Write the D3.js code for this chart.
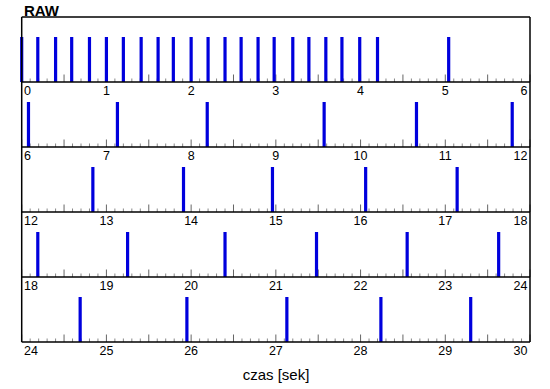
<!DOCTYPE html>
<html>
<head>
<meta charset="utf-8">
<script src="https://cdn.jsdelivr.net/npm/d3@7"></script>
<style>
  html, body { margin: 0; padding: 0; background: #fff; }
  svg { display: block; }
</style>
</head>
<body>
<svg id="chart" width="550" height="389"></svg>
<script>
// ---- data ----
const title = "RAW";
const xLabel = "czas [sek]";
const rowStarts = [0, 6, 12, 18, 24];   // each row spans 6 seconds
const rowSpan = 6;
const eventTimes = [
  0.00, 0.19, 0.40, 0.59, 0.80, 1.00, 1.20, 1.41, 1.61, 1.79, 2.00, 2.20,
  2.40, 2.59, 2.79, 2.98, 3.20, 3.39, 3.59, 3.78, 3.99, 4.20, 5.04,
  6.08, 7.13, 8.19, 9.57, 10.66, 11.79,
  12.84, 13.91, 14.96, 16.06, 17.14,
  18.19, 19.25, 20.40, 21.48, 22.55, 23.63,
  24.69, 25.95, 27.13, 28.24, 29.30
];
const eventValues = eventTimes.map(() => 1);

// ---- layout ----
const svg = d3.select("#chart");
const left = 21.7, right = 530;
const top0 = 17, rowH = 65, barH = 45;
const font = "'Liberation Sans', Arial, Helvetica, sans-serif";

svg.append("text")
  .attr("x", 24).attr("y", 16)
  .attr("font-family", font).attr("font-weight", "bold").attr("font-size", 15)
  .text(title);

rowStarts.forEach((start, i) => {
  const yTop = top0 + i * rowH;
  const yAxis = yTop + rowH;
  const x = d3.scaleLinear().domain([start, start + rowSpan]).range([left, right]);
  const y = d3.scaleLinear().domain([0, 1]).range([yAxis, yAxis - barH]);
  const g = svg.append("g");

  // minor ticks every 0.1 s, taller every 0.5 s
  const ticks = d3.range(0, rowSpan * 10 + 1).map(k => start + k / 10);
  g.selectAll("line.tick").data(ticks).join("line")
    .attr("x1", d => x(d)).attr("x2", d => x(d))
    .attr("y1", yAxis)
    .attr("y2", (d, k) => yAxis - (k % 5 === 0 ? 7.5 : 3.5))
    .attr("stroke", (d, k) => k % 5 === 0 ? "#666" : "#888")
    .attr("stroke-width", 1);

  // bars
  const evs = eventTimes.map((t, k) => ({t, v: eventValues[k]}))
    .filter(e => e.t >= start && e.t < start + rowSpan);
  g.selectAll("rect").data(evs).join("rect")
    .attr("x", d => x(d.t) - 1.6)
    .attr("width", 3.2)
    .attr("y", d => y(d.v))
    .attr("height", d => y(0) - y(d.v))
    .attr("fill", "#0000dd");

  // axis line
  g.append("line")
    .attr("x1", left).attr("x2", right).attr("y1", yAxis).attr("y2", yAxis)
    .attr("stroke", "#000").attr("stroke-width", 1.5);

  // integer labels
  const labs = x.ticks(rowSpan);
  g.selectAll("text").data(labs).join("text")
    .attr("x", (d, k) => k === 0 ? left + 2.3 : (k === labs.length - 1 ? right - 2.5 : x(d)))
    .attr("y", yAxis + 13)
    .attr("text-anchor", (d, k) => k === 0 ? "start" : (k === labs.length - 1 ? "end" : "middle"))
    .attr("font-family", font).attr("font-size", 12.5)
    .attr("fill", "#000")
    .text(d => d);
});

// frame
const yBottom = top0 + rowStarts.length * rowH;
svg.append("line").attr("x1", left).attr("x2", right).attr("y1", top0).attr("y2", top0)
  .attr("stroke", "#000").attr("stroke-width", 1.5);
svg.append("line").attr("x1", left).attr("x2", left).attr("y1", top0).attr("y2", yBottom)
  .attr("stroke", "#000").attr("stroke-width", 1.5);
svg.append("line").attr("x1", right).attr("x2", right).attr("y1", top0).attr("y2", yBottom)
  .attr("stroke", "#000").attr("stroke-width", 1.5);

svg.append("text")
  .attr("x", 276).attr("y", 380)
  .attr("text-anchor", "middle")
  .attr("font-family", font).attr("font-size", 15)
  .text(xLabel);
</script>
</body>
</html>
